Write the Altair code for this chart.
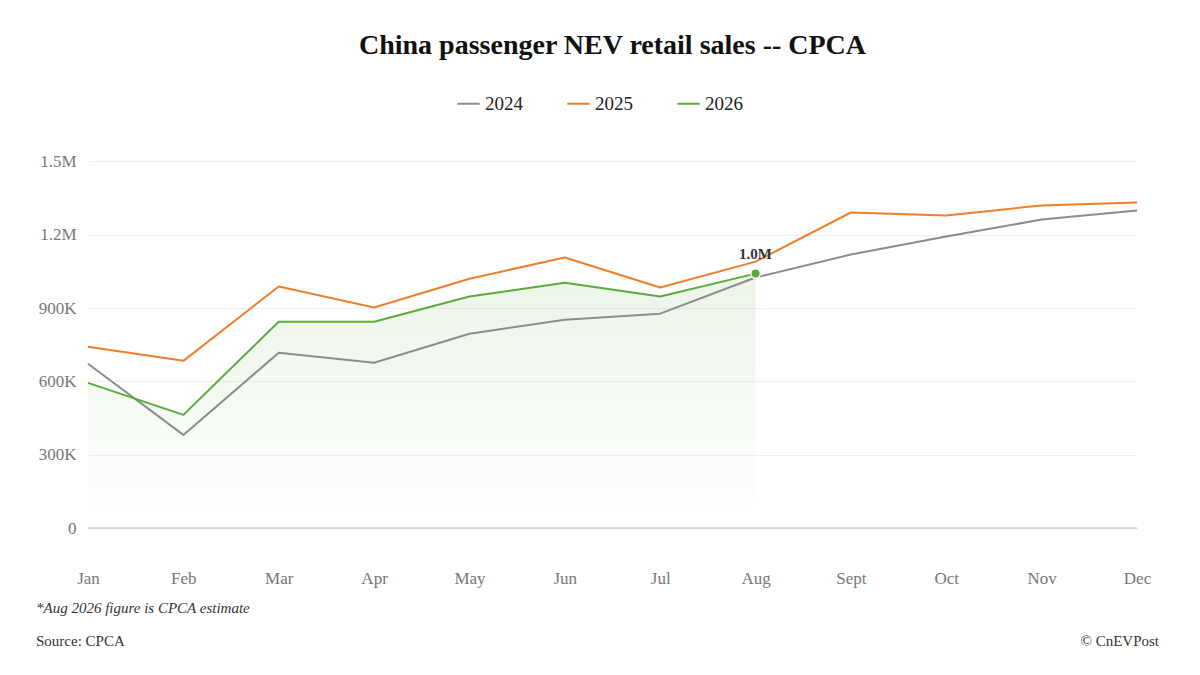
import altair as alt
import pandas as pd

months = ["Jan", "Feb", "Mar", "Apr", "May", "Jun", "Jul", "Aug", "Sept", "Oct", "Nov", "Dec"]
sales_2024 = [672000, 381000, 717000, 676000, 795000, 852000, 877000, 1025000, 1119000, 1193000, 1262000, 1299000]
sales_2025 = [742000, 684000, 988000, 902000, 1020000, 1107000, 984000, 1090000, 1291000, 1279000, 1320000, 1332000]
sales_2026 = [594000, 463000, 844000, 844000, 947000, 1004000, 947000, 1041000]

rows = []
for year, vals in [("2024", sales_2024), ("2025", sales_2025), ("2026", sales_2026)]:
    for m, v in zip(months, vals):
        rows.append({"Month": m, "Year": year, "Sales": v})
df = pd.DataFrame(rows)
df26 = df[df["Year"] == "2026"]
last = df26.tail(1).assign(label="1.0M")

W, H = 1049, 391
font = "Liberation Serif"

x = alt.X("Month:N", sort=months, scale=alt.Scale(type="point", padding=0), title=None,
          axis=alt.Axis(domain=False, ticks=False, labelPadding=42, labelFontSize=17, labelAngle=0,
                        labelColor="#777", labelFont=font, grid=False))
y = alt.Y("Sales:Q", scale=alt.Scale(domain=[0, 1500000]), title=None,
          axis=alt.Axis(values=[0, 300000, 600000, 900000, 1200000, 1500000],
                        labelExpr="datum.value == 0 ? '0' : datum.value >= 1000000 ? format(datum.value/1000000, '.1f') + 'M' : format(datum.value/1000, '.0f') + 'K'",
                        domain=False, ticks=False, labelPadding=12, labelFontSize=17,
                        labelColor="#777", labelFont=font, gridColor="#eeeeee"))

color = alt.Color("Year:N", scale=alt.Scale(domain=["2024", "2025", "2026"],
                                           range=["#8c8c8c", "#ee7f2d", "#5aab3c"]),
                  legend=alt.Legend(orient="none", legendX=368, legendY=-46, direction="horizontal",
                                    title=None, symbolType="stroke",
                                    symbolStrokeWidth=3, symbolSize=500, labelFontSize=19,
                                    labelFont=font, labelColor="#222", columnPadding=40))

area = alt.Chart(df26).mark_area(
    color=alt.Gradient(gradient="linear", x1=1, x2=1, y1=0, y2=1,
                       stops=[alt.GradientStop(color="#5aab3c", offset=0),
                              alt.GradientStop(color="#ffffff", offset=1)]),
    opacity=0.12).encode(x=x, y=y)

base_rule = alt.Chart(pd.DataFrame({"v": [0]})).mark_rule(color="#bbbbbb").encode(y="v:Q")

lines = alt.Chart(df).mark_line(strokeJoin="round").encode(
    x=x, y=y, color=color,
    strokeWidth=alt.StrokeWidth("Year:N", scale=alt.Scale(domain=["2024", "2025", "2026"], range=[2, 2, 3.5]), legend=None))

pt = alt.Chart(last).mark_point(filled=True, size=90, color="#5aab3c", stroke="white", strokeWidth=1.5, opacity=1).encode(x=x, y=y)
lbl = alt.Chart(last).mark_text(dy=-20, fontWeight="bold", fontSize=15, font=font, color="#333").encode(x=x, y=y, text="label:N")

note = alt.Chart(pd.DataFrame({"t": ["*Aug 2026 figure is CPCA estimate"]})).mark_text(
    align="left", fontStyle="italic", fontSize=15, font=font, color="#333").encode(
    x=alt.value(-52), y=alt.value(H + 80), text="t:N")
src = alt.Chart(pd.DataFrame({"t": ["Source: CPCA"]})).mark_text(
    align="left", fontSize=15, font=font, color="#333").encode(
    x=alt.value(-52), y=alt.value(H + 113), text="t:N")
cr = alt.Chart(pd.DataFrame({"t": ["© CnEVPost"]})).mark_text(
    align="right", fontSize=15, font=font, color="#333").encode(
    x=alt.value(W + 22), y=alt.value(H + 113), text="t:N")

chart = alt.layer(area, base_rule, lines, pt, lbl, note, src, cr).properties(
    width=W, height=H,
    title=alt.Title("China passenger NEV retail sales -- CPCA", fontSize=28, font=font,
                    fontWeight="bold", color="#111", offset=31),
    padding={"left": 28, "top": 24, "right": 10, "bottom": 10},
).configure_view(stroke=None)

chart.save("out.html", embed_options={"renderer": "svg", "actions": False})
